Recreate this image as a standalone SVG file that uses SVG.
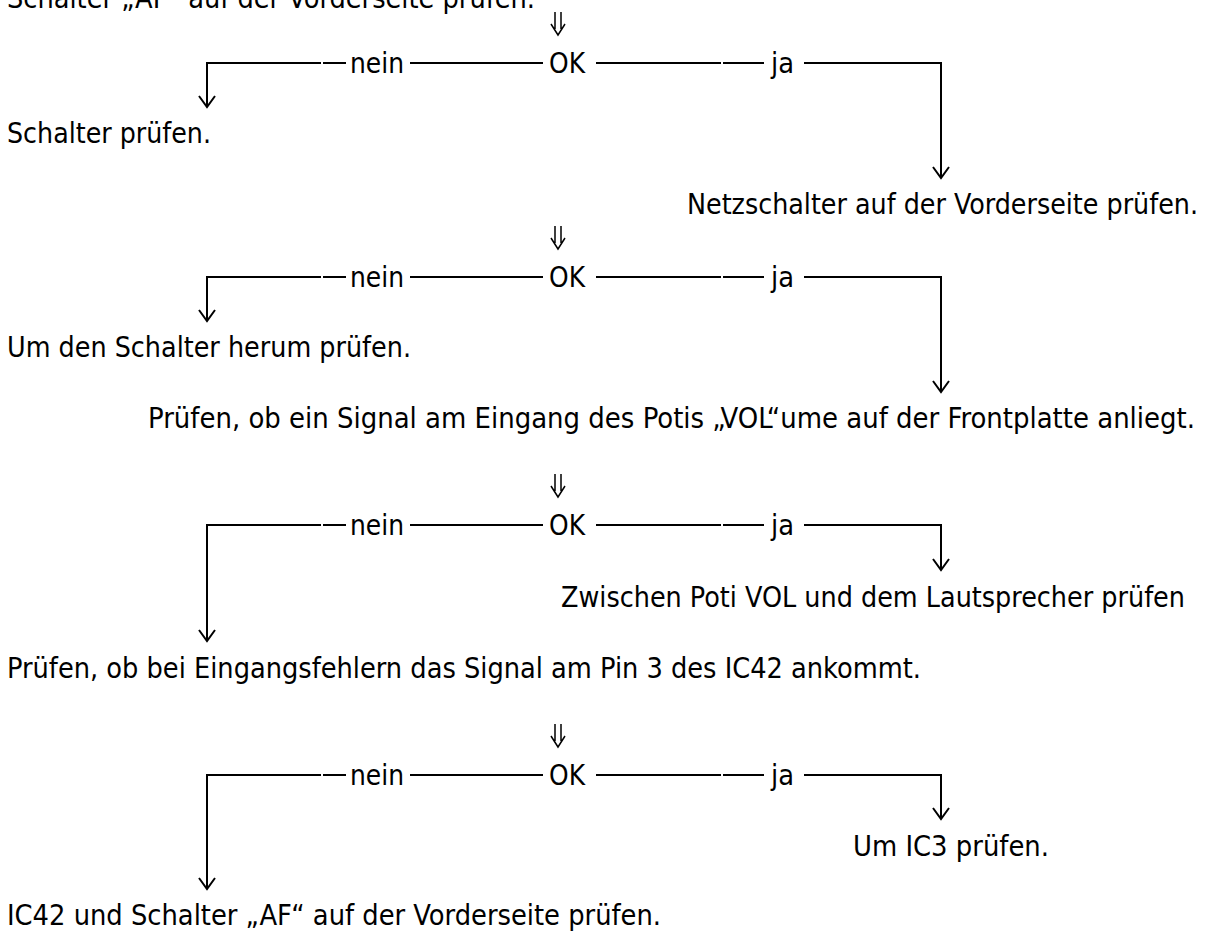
<svg xmlns="http://www.w3.org/2000/svg" width="1213" height="931" viewBox="0 0 1213 931">
<style>
.t{font-family:"DejaVu Sans Condensed","DejaVu Sans",sans-serif;font-size:29px;fill:#000}
.c{fill:none;stroke:#000;stroke-width:2}
.d{fill:none;stroke:#000;stroke-width:1.5}
</style>
<rect width="1213" height="931" fill="#fff"/>
<g id="connectors">
  <!-- block 1 -->
  <path class="d" d="M555,12V29M561,12V29M551,24L558,35L565,24"/>
  <path class="c" d="M321,63H207V107M323,63H346M410,63H543M596,63H721M723,63H764M804,63H941V178"/>
  <path class="c" d="M199,96L207,107L215,96M933,167L941,178L949,167"/>
  <!-- block 2 -->
  <path class="d" d="M555,226V243M561,226V243M551,238L558,249L565,238"/>
  <path class="c" d="M321,277H207V321M323,277H346M410,277H543M596,277H721M723,277H764M804,277H941V392"/>
  <path class="c" d="M199,310L207,321L215,310M933,381L941,392L949,381"/>
  <!-- block 3 -->
  <path class="d" d="M555,474V491M561,474V491M551,486L558,497L565,486"/>
  <path class="c" d="M321,525H207V641M323,525H346M410,525H543M596,525H721M723,525H764M804,525H941V570"/>
  <path class="c" d="M199,630L207,641L215,630M933,559L941,570L949,559"/>
  <!-- block 4 -->
  <path class="d" d="M555,724V741M561,724V741M551,736L558,747L565,736"/>
  <path class="c" d="M321,775H207V889M323,775H346M410,775H543M596,775H721M723,775H764M804,775H941V819"/>
  <path class="c" d="M199,878L207,889L215,878M933,808L941,819L949,808"/>
</g>
<g id="n0"><text class="t" x="7" y="8" textLength="528" lengthAdjust="spacingAndGlyphs">Schalter „AF“ auf der Vorderseite prüfen.</text></g>
<g id="ok1">
  <text class="t" x="350" y="73" textLength="54" lengthAdjust="spacingAndGlyphs">nein</text>
  <text class="t" x="549" y="73" textLength="36" lengthAdjust="spacingAndGlyphs">OK</text>
  <text class="t" x="771" y="73" textLength="23" lengthAdjust="spacingAndGlyphs">ja</text>
</g>
<g id="n1"><text class="t" x="7" y="143" textLength="204" lengthAdjust="spacingAndGlyphs">Schalter prüfen.</text></g>
<g id="n2"><text class="t" x="687" y="214" textLength="511" lengthAdjust="spacingAndGlyphs">Netzschalter auf der Vorderseite prüfen.</text></g>
<g id="ok2">
  <text class="t" x="350" y="287" textLength="54" lengthAdjust="spacingAndGlyphs">nein</text>
  <text class="t" x="549" y="287" textLength="36" lengthAdjust="spacingAndGlyphs">OK</text>
  <text class="t" x="771" y="287" textLength="23" lengthAdjust="spacingAndGlyphs">ja</text>
</g>
<g id="n3"><text class="t" x="7" y="357" textLength="404" lengthAdjust="spacingAndGlyphs">Um den Schalter herum prüfen.</text></g>
<g id="n4"><text class="t" x="148" y="428" textLength="1047" lengthAdjust="spacingAndGlyphs">Prüfen, ob ein Signal am Eingang des Potis „VOL“ume auf der Frontplatte anliegt.</text></g>
<g id="ok3">
  <text class="t" x="350" y="535" textLength="54" lengthAdjust="spacingAndGlyphs">nein</text>
  <text class="t" x="549" y="535" textLength="36" lengthAdjust="spacingAndGlyphs">OK</text>
  <text class="t" x="771" y="535" textLength="23" lengthAdjust="spacingAndGlyphs">ja</text>
</g>
<g id="n5"><text class="t" x="561" y="607" textLength="624" lengthAdjust="spacingAndGlyphs">Zwischen Poti VOL und dem Lautsprecher prüfen</text></g>
<g id="n6"><text class="t" x="7" y="678" textLength="914" lengthAdjust="spacingAndGlyphs">Prüfen, ob bei Eingangsfehlern das Signal am Pin 3 des IC42 ankommt.</text></g>
<g id="ok4">
  <text class="t" x="350" y="785" textLength="54" lengthAdjust="spacingAndGlyphs">nein</text>
  <text class="t" x="549" y="785" textLength="36" lengthAdjust="spacingAndGlyphs">OK</text>
  <text class="t" x="771" y="785" textLength="23" lengthAdjust="spacingAndGlyphs">ja</text>
</g>
<g id="n7"><text class="t" x="853" y="856" textLength="196" lengthAdjust="spacingAndGlyphs">Um IC3 prüfen.</text></g>
<g id="n8"><text class="t" x="7" y="925" textLength="654" lengthAdjust="spacingAndGlyphs">IC42 und Schalter „AF“ auf der Vorderseite prüfen.</text></g>
</svg>
